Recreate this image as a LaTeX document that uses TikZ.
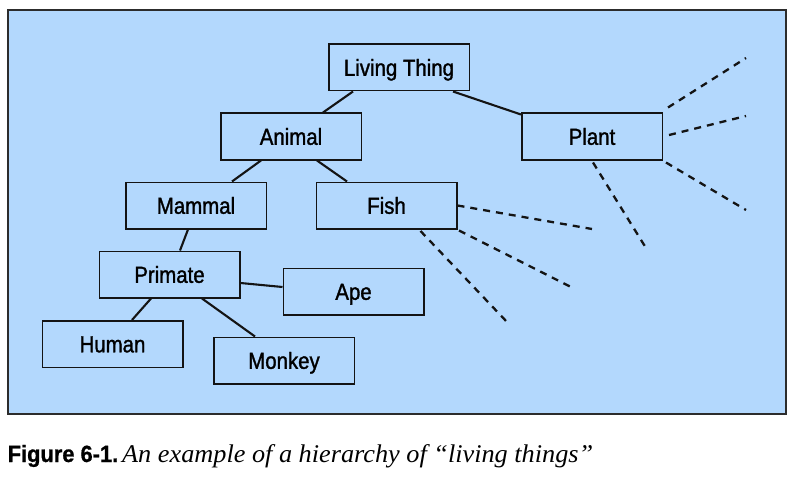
\documentclass[tikz,border=0pt]{standalone}
\usepackage{fontspec}
\newfontfamily\labelfont[FakeStretch=0.88,FakeBold=1.3]{Liberation Sans}
\newfontfamily\capsans[FakeStretch=0.93,FakeBold=0.8]{Liberation Sans}
\newfontfamily\capserif[FakeStretch=1.03]{Liberation Serif}
\usetikzlibrary{calc}
\definecolor{bgblue}{RGB}{179,216,253}
\definecolor{ink}{RGB}{20,20,20}
\begin{document}
\begin{tikzpicture}[x=1pt,y=-1pt,
  box/.style={draw=ink, line width=1.5pt, minimum width=140.5pt, minimum height=46.5pt,
    inner sep=0pt, font=\labelfont\fontsize{23.2}{25}\selectfont, text height=16.6pt, text depth=0pt},
  link/.style={line width=2.1pt, draw=ink},
  more/.style={line width=2.3pt, draw=ink, dash pattern=on 7pt off 6pt}]
\useasboundingbox (0,0) rectangle (800,484);
\draw[fill=bgblue, draw=ink!90, line width=1.4pt] (8,10) rectangle (786,414);

\node[box] (lt)      at (399,67.5)   {Living Thing};
\node[box] (animal)  at (291,136.5)  {Animal};
\node[box] (plant)   at (592,136.5)  {Plant};
\node[box] (mammal)  at (196,205.5)  {Mammal};
\node[box] (fish)    at (386.5,205.5){Fish};
\node[box] (primate) at (169.5,274.5){Primate};
\node[box] (ape)     at (353.5,291.5){Ape};
\node[box] (human)   at (112.5,344)  {Human};
\node[box] (monkey)  at (284,360.5)  {Monkey};

\draw[link] ($(lt.south)+(-46,0)$) -- ($(animal.north)+(32,0)$);
\draw[link] ($(lt.south)+(54,0)$) -- ($(plant.north west)+(0,2)$);
\draw[link] ($(animal.south)+(-30,0)$) -- ($(mammal.north)+(36,0)$);
\draw[link] ($(animal.south)+(26,0)$) -- ($(fish.north)+(-39.5,0)$);
\draw[link] ($(mammal.south)+(-8,0)$) -- ($(primate.north)+(10.5,0)$);
\draw[link] ($(primate.east)+(0,8.5)$) -- ($(ape.west)+(0,-4.5)$);
\draw[link] ($(primate.south)+(-18.5,0)$) -- ($(human.north)+(19.5,0)$);
\draw[link] ($(primate.south)+(32.5,0)$) -- ($(monkey.north)+(-29,0)$);

\coordinate (p1) at (746,58);
\coordinate (p2) at (746,116);
\coordinate (p3) at (746,210);
\coordinate (p4) at (646,248);
\coordinate (f1) at (592,229);
\coordinate (f2) at (571,287);
\coordinate (f3) at (507,322);

\draw[more] ($(plant.north east)+(5,-5)$) -- (p1);
\draw[more] ($(plant.east)+(6,-1.5)$) -- (p2);
\draw[more] ($(plant.south east)+(3,2)$) -- (p3);
\draw[more] ($(plant.south)+(1,2)$) -- (p4);
\draw[more] (fish.east) -- (f1);
\draw[more] ($(fish.south east)+(1.5,1)$) -- (f2);
\draw[more] ($(fish.south)+(34,1.5)$) -- (f3);

\node[anchor=base west, inner sep=0pt, font=\capsans\bfseries\fontsize{23.5}{26}\selectfont] (fig) at (7.5,462) {Figure 6-1.};
\node[anchor=base west, inner sep=0pt, font=\capserif\itshape\fontsize{25.5}{28}\selectfont] (cap) at (122,462) {An example of a hierarchy of “living things”};
\end{tikzpicture}
\end{document}
